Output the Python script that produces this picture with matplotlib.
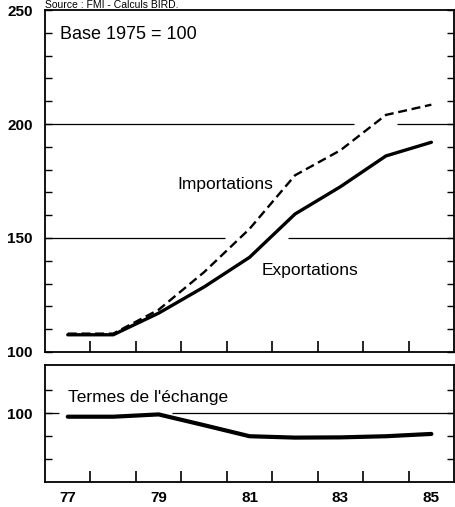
import matplotlib
matplotlib.use("Agg")
import matplotlib.pyplot as plt
from matplotlib.ticker import FixedLocator

plt.rcParams['font.family'] = ['Liberation Sans', 'DejaVu Sans']

# data (index, base 1975 = 100)
years = [77, 78, 79, 80, 81, 82, 83, 84, 85]
exportations = [107.5, 107.5, 117, 128.5, 141.5, 160.5, 172.5, 186, 192]
importations = [108, 108, 118.5, 135, 154, 177.5, 188.5, 204, 208.5]
termes = [98.5, 98.5, 99.5, 94.8, 90, 89.4, 89.5, 90, 91]
year_labels = ["77", "79", "81", "83", "85"]

fig = plt.figure(figsize=(4.55, 5.07), dpi=100)
ax1 = fig.add_axes([0.099, 0.306, 0.899, 0.674])
ax2 = fig.add_axes([0.099, 0.049, 0.899, 0.231])

for ax in (ax1, ax2):
    ax.set_xlim(76.5, 85.5)
    ax.set_xticks([y + 0.5 for y in years[:-1]])
    ax.set_xticklabels([])
    ax.tick_params(axis='x', direction='in', length=8, width=1.2, top=False)
    ax.tick_params(axis='y', which='both', direction='in', left=True, right=True,
                   length=5, width=1.0, pad=9)
    for s in ax.spines.values():
        s.set_linewidth(1.3)

# top panel
ax1.set_ylim(100, 250)
ax1.set_yticks([100, 150, 200, 250])
ax1.yaxis.set_minor_locator(FixedLocator(list(range(110, 250, 10))))
ax1.set_yticklabels(["100", "150", "200", "250"], fontweight='bold', fontsize=11)
ax1.hlines([200, 200], [76.5, 84.25], [83.3, 85.5], color='black', lw=0.9)
ax1.hlines([150, 150], [76.5, 81.85], [80.45, 85.5], color='black', lw=0.9)
ax1.plot(years, importations, color='black', lw=1.7, ls=(0, (3.8, 2.0)))
ax1.plot(years, exportations, color='black', lw=2.4, solid_capstyle='round')
ax1.text(0.037, 0.955, "Base 1975 = 100", transform=ax1.transAxes, fontsize=13,
         va='top', ha='left')
ax1.text(80.46, 173.5, "Importations", fontsize=12.5, ha='center', va='center')
ax1.text(82.32, 135.5, "Exportations", fontsize=12.5, ha='center', va='center')

# bottom panel
ax2.set_ylim(70, 121)
ax2.set_yticks([100])
ax2.yaxis.set_minor_locator(FixedLocator([80, 90, 110]))
ax2.set_yticklabels(["100"], fontweight='bold', fontsize=11)
ax2.hlines([100, 100], [76.5, 79.3], [76.8, 85.5], color='black', lw=0.9)
ax2.plot(years, termes, color='black', lw=3.0, solid_capstyle='round')
ax2.text(77.0, 107, "Termes de l'échange", fontsize=12.5, ha='left', va='center')
for lab, yr in zip(year_labels, [77, 79, 81, 83, 85]):
    ax2.text(yr, -0.135, lab, transform=ax2.get_xaxis_transform(), ha='center',
             va='center', fontsize=11, fontweight='bold')

fig.text(0.099, 1 - 8 / 507, "Source : FMI - Calculs BIRD.", fontsize=7.5,
         ha='left', va='baseline')

fig.savefig("out.png", dpi=100)
